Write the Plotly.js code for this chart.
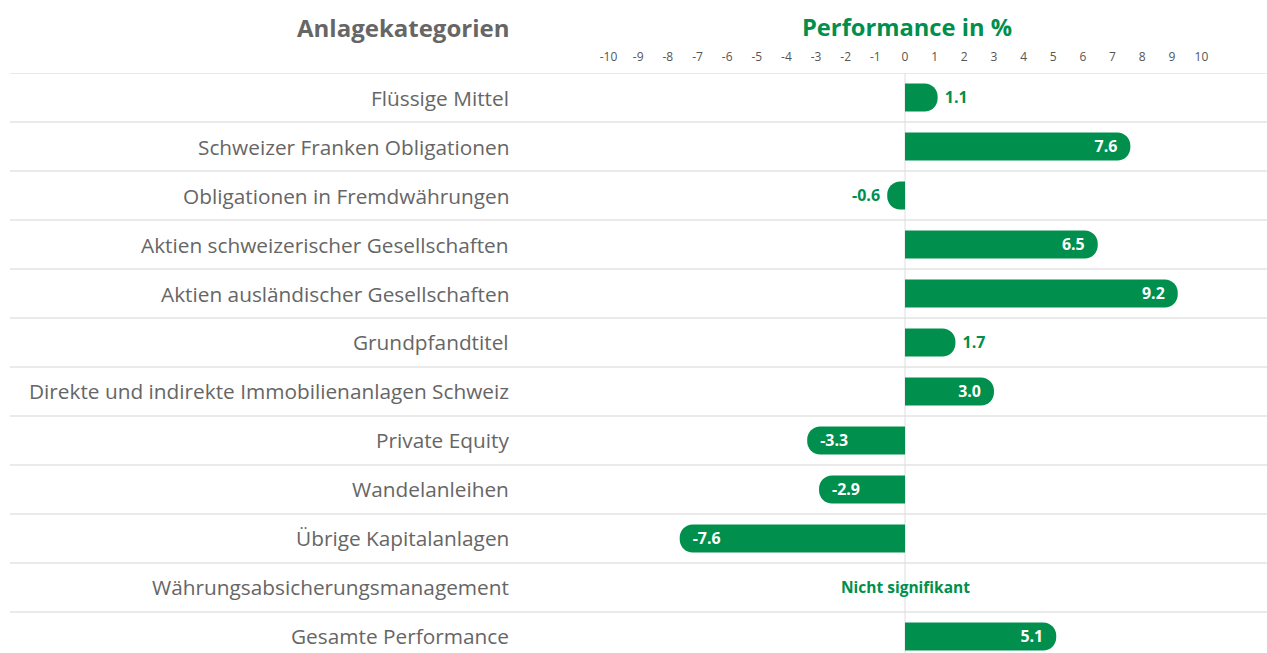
<!DOCTYPE html>
<html>
<head>
<meta charset="utf-8">
<script src="https://cdn.plot.ly/plotly-3.0.1.min.js"></script>
<style>html,body{margin:0;padding:0;background:#fff;}#chart{width:1267px;height:653px;}</style>
</head>
<body>
<div id="chart"></div>
<script>
const categories = [
  "Flüssige Mittel",
  "Schweizer Franken Obligationen",
  "Obligationen in Fremdwährungen",
  "Aktien schweizerischer Gesellschaften",
  "Aktien ausländischer Gesellschaften",
  "Grundpfandtitel",
  "Direkte und indirekte Immobilienanlagen Schweiz",
  "Private Equity",
  "Wandelanleihen",
  "Übrige Kapitalanlagen",
  "Währungsabsicherungsmanagement",
  "Gesamte Performance"
];
const performance = [1.1, 7.6, -0.6, 6.5, 9.2, 1.7, 3.0, -3.3, -2.9, -7.6, null, 5.1];
const notes = ["", "", "", "", "", "", "", "", "", "", "Nicht signifikant", ""];
const tickValues = [-10,-9,-8,-7,-6,-5,-4,-3,-2,-1,0,1,2,3,4,5,6,7,8,9,10];
const titleLeft = "Anlagekategorien";
const titleRight = "Performance in %";

const GREEN = "#008f4c";
const GRAY = "#666666";
const FONT = "Open Sans, Noto Sans, sans-serif";

const idx = categories.map((c, i) => i);
const positions = performance.map(v => (v !== null && Math.abs(v) < 2) ? "outside" : "inside");
const templates = performance.map((v, i) => {
  if (v === null) return "";
  if (positions[i] === "outside") return v > 0 ? " %{x:.1f}" : "%{x:.1f} ";
  return "%{x:.1f}";
});

const trace = {
  type: "bar",
  orientation: "h",
  x: performance,
  y: idx,
  width: 0.57,
  marker: { color: GREEN, cornerradius: 14 },
  texttemplate: templates,
  textposition: positions,
  insidetextanchor: "end",
  insidetextfont: { color: "#ffffff", size: 16, family: FONT, weight: "bold" },
  outsidetextfont: { color: GREEN, size: 16, family: FONT, weight: "bold" },
  constraintext: "none",
  cliponaxis: false,
  hoverinfo: "skip"
};

const shapes = [];
for (let k = 0; k <= categories.length; k++) {
  shapes.push({ type: "line", xref: "paper", yref: "y", x0: 0, x1: 1, y0: k - 0.5, y1: k - 0.5,
    line: { color: "#e3e3e3", width: 1.5 }, layer: "below" });
}
shapes.push({ type: "line", xref: "x", yref: "paper", x0: 0, x1: 0, y0: 0, y1: 1,
  line: { color: "#dddddd", width: 1 }, layer: "below" });

const LABEL_X = -13.29;
const annotations = categories.map((c, i) => ({
  x: LABEL_X, y: i, xref: "x", yref: "y", text: c, showarrow: false, xanchor: "right", yanchor: "middle",
  font: { family: FONT, size: 20.8, color: GRAY }
}));
notes.forEach((n, i) => {
  if (n) annotations.push({ x: 0, y: i, xref: "x", yref: "y", text: n, showarrow: false,
    xanchor: "center", yanchor: "middle", font: { family: FONT, size: 15.5, color: GREEN, weight: "bold" } });
});
annotations.push({ x: LABEL_X, y: 1.0793, xref: "x", yref: "paper", text: titleLeft, showarrow: false,
  xanchor: "right", yanchor: "middle", font: { family: FONT, size: 24, color: GRAY, weight: "bold" } });
annotations.push({ x: 0.07, y: 1.0793, xref: "x", yref: "paper", text: titleRight, showarrow: false,
  xanchor: "center", yanchor: "middle", font: { family: FONT, size: 23.7, color: GREEN, weight: "bold" } });

const layout = {
  width: 1267, height: 653,
  margin: { l: 10, r: 0, t: 73, b: 0 },
  paper_bgcolor: "#ffffff", plot_bgcolor: "#ffffff",
  showlegend: false,
  xaxis: {
    range: [-30.19, 12.21], side: "top", tickvals: tickValues, ticktext: tickValues.map(String),
    showgrid: false, zeroline: false, showline: false,
    ticks: "outside", ticklen: 6, tickcolor: "rgba(0,0,0,0)",
    tickfont: { family: FONT, size: 12, color: "#555555" }, fixedrange: true
  },
  yaxis: {
    range: [11.337, -0.5], showticklabels: false, showgrid: false, zeroline: false, showline: false,
    fixedrange: true
  },
  shapes: shapes,
  annotations: annotations
};

Plotly.newPlot("chart", [trace], layout, { displayModeBar: false, staticPlot: true });
</script>
</body>
</html>
